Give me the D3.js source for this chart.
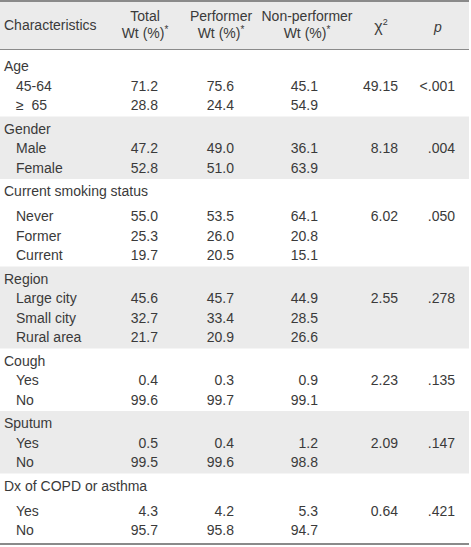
<!DOCTYPE html>
<html>
<head>
<meta charset="utf-8">
<script src="https://cdn.jsdelivr.net/npm/d3@7"></script>
<style>
  html, body { margin: 0; padding: 0; background: #fff; }
  svg text { font-family: "Liberation Sans", Arial, Helvetica, sans-serif; font-size: 14px; fill: #3a3a3a; }
</style>
</head>
<body>
<script>
// ---------- data ----------
const columnHeaders = ["Characteristics", "Total", "Performer", "Non-performer", "χ", "p"];
const groups = ["Age", "Gender", "Current smoking status", "Region", "Cough", "Sputum", "Dx of COPD or asthma"];
const items = [
  ["45-64", "≥  65"],
  ["Male", "Female"],
  ["Never", "Former", "Current"],
  ["Large city", "Small city", "Rural area"],
  ["Yes", "No"],
  ["Yes", "No"],
  ["Yes", "No"]
];
const totalWt = [[71.2, 28.8], [47.2, 52.8], [55.0, 25.3, 19.7], [45.6, 32.7, 21.7], [0.4, 99.6], [0.5, 99.5], [4.3, 95.7]];
const performerWt = [[75.6, 24.4], [49.0, 51.0], [53.5, 26.0, 20.5], [45.7, 33.4, 20.9], [0.3, 99.7], [0.4, 99.6], [4.2, 95.8]];
const nonPerformerWt = [[45.1, 54.9], [36.1, 63.9], [64.1, 20.8, 15.1], [44.9, 28.5, 26.6], [0.9, 99.1], [1.2, 98.8], [5.3, 94.7]];
const chiSquare = [49.15, 8.18, 6.02, 2.55, 2.23, 2.09, 0.64];
const pValues = ["<.001", ".004", ".050", ".278", ".135", ".147", ".421"];

// ---------- layout ----------
const W = 471, H = 547, tableW = 469;
const shade = "#ebebeb", rule = "#8a8a8a";
const valueCols = ["total", "performer", "nonperformer", "chi", "p"];
const xRight = d3.scaleOrdinal().domain(valueCols).range([158, 234, 318, 398, 455]);
const xCenter = d3.scaleOrdinal().domain(valueCols).range([145, 221, 307, 381, 438]);
const longTitleGap = [false, false, true, false, false, false, true];
const f1 = d3.format(".1f"), f2 = d3.format(".2f");

const svg = d3.select("body").append("svg").attr("width", W).attr("height", H);

// header
svg.append("rect").attr("x", 0).attr("y", 1).attr("width", tableW).attr("height", 48).attr("fill", shade);
svg.append("line").attr("x1", 0).attr("x2", tableW).attr("y1", 1).attr("y2", 1).attr("stroke", rule).attr("stroke-width", 2);
svg.append("line").attr("x1", 0).attr("x2", tableW).attr("y1", 49.5).attr("y2", 49.5).attr("stroke", rule).attr("stroke-width", 1);

svg.append("text").attr("x", 4).attr("y", 30).text(columnHeaders[0]);
const twoLine = [["total", columnHeaders[1]], ["performer", columnHeaders[2]], ["nonperformer", columnHeaders[3]]];
twoLine.forEach(([k, label]) => {
  svg.append("text").attr("x", xCenter(k)).attr("y", 21).attr("text-anchor", "middle").text(label);
  const t = svg.append("text").attr("x", xCenter(k)).attr("y", 38).attr("text-anchor", "middle");
  t.append("tspan").text("Wt (%)");
  t.append("tspan").attr("font-size", "10px").attr("dy", -5).text("*");
});
const chiT = svg.append("text").attr("x", xCenter("chi")).attr("y", 32).attr("text-anchor", "middle");
chiT.append("tspan").attr("font-size", "16px").text(columnHeaders[4]);
chiT.append("tspan").attr("font-size", "9px").attr("dy", -7).text("2");
svg.append("text").attr("x", xCenter("p")).attr("y", 32).attr("text-anchor", "middle").attr("font-style", "italic").attr("font-size", "15px").text(columnHeaders[5]);

// body rows
let y = 49.5;
groups.forEach((g, gi) => {
  const top = y;
  const titleY = top + (gi === 0 ? 21.5 : 17);
  const itemYs = [];
  let iy = titleY + (longTitleGap[gi] ? 25 : 19.5);
  items[gi].forEach(() => { itemYs.push(iy); iy += 19.5; });
  const bottom = itemYs[itemYs.length - 1] + 6.5;
  y = bottom;

  if (gi % 2 === 1) {
    svg.append("rect").attr("x", 0).attr("y", top).attr("width", tableW).attr("height", bottom - top).attr("fill", shade);
  }
  svg.append("text").attr("x", 4).attr("y", titleY).text(g);

  items[gi].forEach((lab, ii) => {
    const yy = itemYs[ii];
    svg.append("text").attr("x", 16).attr("y", yy).attr("xml:space", "preserve").style("white-space", "pre").text(lab);
    svg.append("text").attr("x", xRight("total")).attr("y", yy).attr("text-anchor", "end").text(f1(totalWt[gi][ii]));
    svg.append("text").attr("x", xRight("performer")).attr("y", yy).attr("text-anchor", "end").text(f1(performerWt[gi][ii]));
    svg.append("text").attr("x", xRight("nonperformer")).attr("y", yy).attr("text-anchor", "end").text(f1(nonPerformerWt[gi][ii]));
  });
  svg.append("text").attr("x", xRight("chi")).attr("y", itemYs[0]).attr("text-anchor", "end").text(f2(chiSquare[gi]));
  svg.append("text").attr("x", xRight("p")).attr("y", itemYs[0]).attr("text-anchor", "end").text(pValues[gi]);
});

svg.append("line").attr("x1", 0).attr("x2", tableW).attr("y1", y + 2.5).attr("y2", y + 2.5).attr("stroke", rule).attr("stroke-width", 2);
</script>
</body>
</html>
